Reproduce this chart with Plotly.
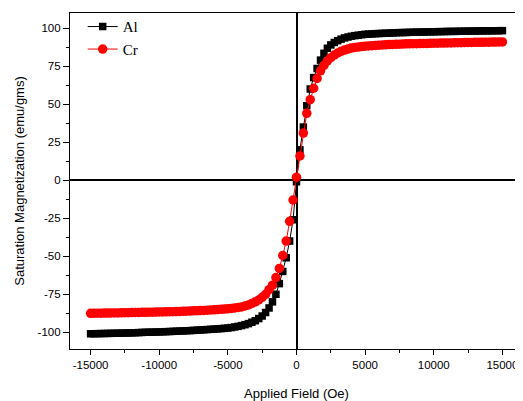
import plotly.graph_objects as go

field = [
    -15000, -14750, -14500, -14250, -14000, -13750, -13500, -13250, -13000, -12750,
    -12500, -12250, -12000, -11750, -11500, -11250, -11000, -10750, -10500, -10250,
    -10000, -9750, -9500, -9250, -9000, -8750, -8500, -8250, -8000, -7750,
    -7500, -7250, -7000, -6750, -6500, -6250, -6000, -5750, -5500, -5250,
    -5000, -4750, -4500, -4250, -4000, -3750, -3500, -3250, -3000, -2750,
    -2500, -2250, -2000, -1750, -1500, -1250, -1000, -750, -500, -250,
    0,
    250, 500, 750, 1000, 1250, 1500, 1750, 2000, 2250, 2500,
    2750, 3000, 3250, 3500, 3750, 4000, 4250, 4500, 4750, 5000,
    5250, 5500, 5750, 6000, 6250, 6500, 6750, 7000, 7250, 7500,
    7750, 8000, 8250, 8500, 8750, 9000, 9250, 9500, 9750, 10000,
    10250, 10500, 10750, 11000, 11250, 11500, 11750, 12000, 12250, 12500,
    12750, 13000, 13250, 13500, 13750, 14000, 14250, 14500, 14750, 15000,
]

al = [
    -101.0, -100.95, -100.9, -100.85, -100.8, -100.75, -100.7, -100.65, -100.6, -100.55,
    -100.5, -100.45, -100.4, -100.3, -100.2, -100.1, -100.0, -99.95, -99.9, -99.85,
    -99.8, -99.7, -99.6, -99.5, -99.4, -99.3, -99.2, -99.1, -99.0, -98.9,
    -98.75, -98.6, -98.5, -98.35, -98.2, -98.05, -97.9, -97.75, -97.6, -97.4,
    -97.2, -96.9, -96.5, -96.1, -95.6, -95.0, -94.3, -93.4, -92.4, -91.0,
    -89.3, -87.0, -84.0, -80.0, -75.0, -68.0, -60.0, -51.0, -40.0, -26.0,
    -1.0,
    20.0, 35.0, 49.0, 60.0, 67.5, 73.5, 79.0, 83.5, 86.8, 89.0,
    90.6, 91.8, 92.8, 93.6, 94.2, 94.7, 95.1, 95.4, 95.7, 96.0,
    96.1, 96.25, 96.4, 96.5, 96.6, 96.7, 96.8, 96.9, 97.0, 97.1,
    97.15, 97.2, 97.3, 97.35, 97.4, 97.45, 97.5, 97.55, 97.6, 97.65,
    97.7, 97.75, 97.8, 97.85, 97.9, 97.92, 97.95, 98.0, 98.05, 98.1,
    98.12, 98.15, 98.2, 98.22, 98.25, 98.28, 98.3, 98.33, 98.36, 98.4,
]

cr = [
    -87.5, -87.48, -87.45, -87.42, -87.4, -87.37, -87.33, -87.3, -87.25, -87.2,
    -87.15, -87.1, -87.05, -87.0, -86.95, -86.9, -86.85, -86.8, -86.75, -86.7,
    -86.65, -86.6, -86.55, -86.5, -86.45, -86.4, -86.3, -86.2, -86.1, -86.0,
    -85.9, -85.8, -85.7, -85.6, -85.5, -85.35, -85.2, -85.05, -84.9, -84.75,
    -84.6, -84.3, -84.0, -83.7, -83.3, -82.7, -82.0, -81.0, -80.0, -78.7,
    -77.0, -75.0, -72.0, -69.0, -64.0, -58.0, -49.5, -40.0, -27.0, -13.0,
    2.0,
    16.0, 31.0, 44.0, 53.0, 60.5, 67.0, 72.0, 75.5, 78.5, 80.6,
    82.3, 83.7, 84.8, 85.6, 86.3, 86.9, 87.3, 87.6, 87.9, 88.2,
    88.35, 88.5, 88.65, 88.8, 88.95, 89.1, 89.2, 89.3, 89.4, 89.5,
    89.6, 89.7, 89.75, 89.8, 89.85, 89.9, 89.95, 90.0, 90.05, 90.1,
    90.15, 90.2, 90.25, 90.3, 90.35, 90.4, 90.45, 90.5, 90.55, 90.6,
    90.65, 90.7, 90.72, 90.75, 90.8, 90.83, 90.86, 90.9, 90.95, 91.0,
]

x_ticks = [-15000, -10000, -5000, 0, 5000, 10000, 15000]
x_tick_labels = ["-15000", "-10000", "-5000", "0", "5000", "10000", "15000"]
y_ticks = [-100, -75, -50, -25, 0, 25, 50, 75, 100]
y_tick_labels = ["-100", "-75", "-50", "-25", "0", "25", "50", "75", "100"]

font_sans = "Liberation Sans, Arial, sans-serif"

fig = go.Figure()
fig.add_trace(go.Scatter(
    x=field, y=al, name="Al", mode="lines+markers",
    line=dict(color="black", width=1),
    marker=dict(symbol="square", size=7.5, color="black"),
))
fig.add_trace(go.Scatter(
    x=field, y=cr, name="Cr", mode="lines+markers",
    line=dict(color="red", width=1),
    marker=dict(symbol="circle", size=9.5, color="red"),
))

# page body has an 8px margin, so the figure is sized to end at the window edge
fig.update_layout(
    width=515, height=393,
    margin=dict(l=62, r=0, t=5, b=52),
    paper_bgcolor="white", plot_bgcolor="white",
    font=dict(family=font_sans, size=11, color="black"),
    showlegend=True,
    legend=dict(
        x=0.028, y=1.008, xanchor="left", yanchor="top",
        bgcolor="rgba(0,0,0,0)",
        font=dict(family="Liberation Serif, Times New Roman, serif", size=15, color="black"),
        itemwidth=30, tracegroupgap=0,
    ),
)

fig.update_xaxes(
    automargin=False,
    range=[-16500, 16500],
    tickvals=x_ticks, ticktext=x_tick_labels,
    ticks="outside", ticklen=5, tickwidth=1, tickcolor="black",
    minor=dict(ticks="outside", ticklen=3, dtick=2500, tickcolor="black"),
    showline=True, linecolor="black", linewidth=1.2, mirror=True,
    showgrid=False,
    zeroline=True, zerolinecolor="black", zerolinewidth=1.5,
    title=dict(text="Applied Field (Oe)", font=dict(size=13), standoff=20),
    tickfont=dict(size=11.5),
)
fig.update_yaxes(
    automargin=False,
    range=[-111, 110],
    tickvals=y_ticks, ticktext=y_tick_labels,
    ticks="outside", ticklen=6, tickwidth=1, tickcolor="black",
    minor=dict(ticks="outside", ticklen=3, tickvals=[-112.5, -87.5, -62.5, -37.5, -12.5, 12.5, 37.5, 62.5, 87.5], tickcolor="black"),
    showline=True, linecolor="black", linewidth=1.2, mirror=False,
    showgrid=False,
    zeroline=True, zerolinecolor="black", zerolinewidth=1.5,
    title=dict(text="Saturation Magnetization (emu/gms)", font=dict(size=13), standoff=10),
    tickfont=dict(size=11.5),
)

fig.write_html("out.html")
